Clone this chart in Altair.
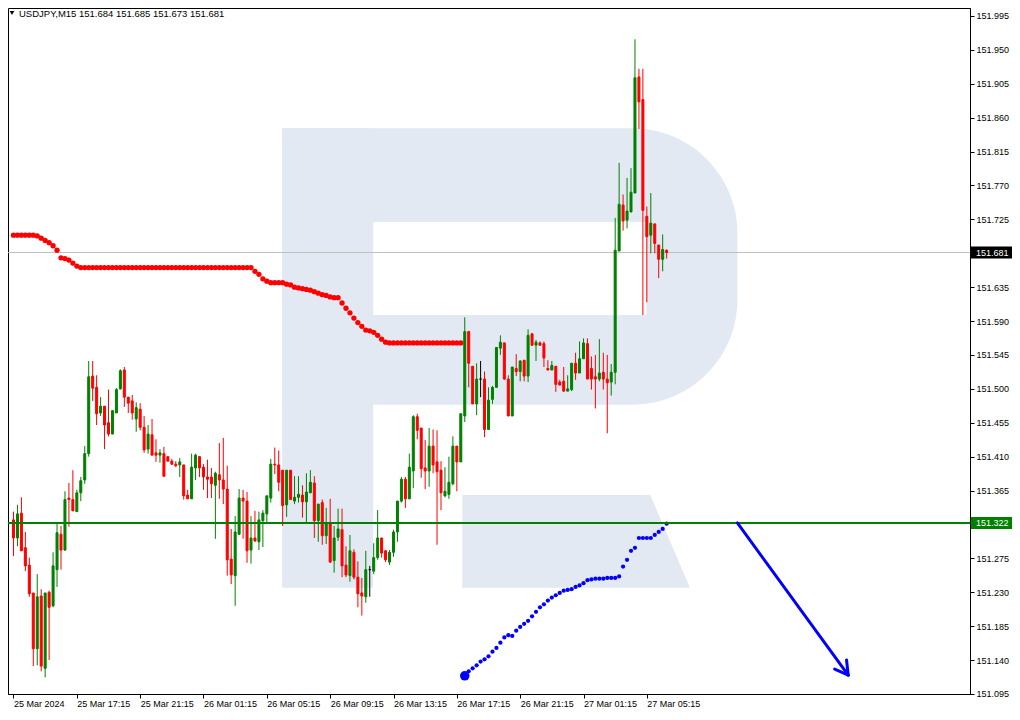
import altair as alt
import pandas as pd

# ---------------- data ----------------
header_text = "USDJPY,M15  151.684 151.685 151.673 151.681"

opens = [
    151.326, 151.302, 151.335, 151.289, 151.266, 151.229, 151.155, 151.225, 151.129, 151.230,
    151.212, 151.260, 151.307, 151.286, 151.355, 151.353, 151.337, 151.362, 151.379, 151.414,
    151.517, 151.502, 151.468, 151.477, 151.455, 151.440, 151.468, 151.500, 151.525, 151.489,
    151.484, 151.460, 151.473, 151.449, 151.420, 151.439, 151.415, 151.412, 151.414, 151.410,
    151.404, 151.400, 151.399, 151.399, 151.359, 151.354, 151.395, 151.410, 151.396, 151.383,
    151.383, 151.372, 151.386, 151.379, 151.367, 151.274, 151.252, 151.307, 151.355, 151.351,
    151.286, 151.302, 151.297, 151.325, 151.334, 151.355, 151.400, 151.399, 151.392, 151.346,
    151.392, 151.351, 151.356, 151.359, 151.350, 151.362, 151.375, 151.325, 151.349, 151.305,
    151.322, 151.272, 151.303, 151.313, 151.266, 151.252, 151.283, 151.250, 151.229, 151.224,
    151.260, 151.258, 151.276, 151.302, 151.285, 151.270, 151.283, 151.310, 151.351, 151.380,
    151.354, 151.391, 151.463, 151.448, 151.395, 151.391, 151.424, 151.403, 151.392, 151.358,
    151.360, 151.374, 151.424, 151.403, 151.464, 151.576, 151.530, 151.480, 151.513, 151.513,
    151.446, 151.486, 151.502, 151.554, 151.561, 151.513, 151.464, 151.527, 151.523, 151.538,
    151.517, 151.573, 151.558, 151.561, 151.560, 151.527, 151.525, 151.530, 151.509, 151.510,
    151.497, 151.499, 151.534, 151.521, 151.540, 151.560, 151.527, 151.516, 151.513, 151.522,
    151.513, 151.509, 151.522, 151.683, 151.744, 151.724, 151.735, 151.760, 151.914, 151.884,
    151.729, 151.704, 151.719, 151.691, 151.672, 151.684,
]
highs = [
    151.337, 151.346, 151.356, 151.310, 151.276, 151.229, 151.254, 151.234, 151.229, 151.232,
    151.283, 151.322, 151.318, 151.364, 151.375, 151.392, 151.366, 151.383, 151.424, 151.537,
    151.537, 151.518, 151.489, 151.477, 151.499, 151.472, 151.501, 151.526, 151.529, 151.489,
    151.492, 151.482, 151.481, 151.464, 151.452, 151.460, 151.433, 151.420, 151.423, 151.410,
    151.407, 151.404, 151.408, 151.399, 151.366, 151.414, 151.414, 151.411, 151.400, 151.406,
    151.395, 151.390, 151.428, 151.435, 151.398, 151.314, 151.331, 151.367, 151.366, 151.363,
    151.331, 151.338, 151.337, 151.339, 151.358, 151.407, 151.422, 151.418, 151.392, 151.392,
    151.392, 151.384, 151.384, 151.372, 151.388, 151.392, 151.384, 151.347, 151.353, 151.342,
    151.354, 151.318, 151.341, 151.341, 151.291, 151.306, 151.287, 151.271, 151.249, 151.285,
    151.265, 151.295, 151.339, 151.302, 151.286, 151.286, 151.313, 151.351, 151.383, 151.383,
    151.414, 151.465, 151.467, 151.448, 151.432, 151.448, 151.446, 151.445, 151.404, 151.396,
    151.410, 151.437, 151.424, 151.467, 151.595, 151.577, 151.530, 151.534, 151.537, 151.523,
    151.502, 151.504, 151.555, 151.571, 151.561, 151.518, 151.529, 151.546, 151.538, 151.538,
    151.579, 151.574, 151.565, 151.563, 151.563, 151.538, 151.537, 151.530, 151.512, 151.529,
    151.518, 151.534, 151.548, 151.563, 151.567, 151.567, 151.543, 151.545, 151.566, 151.548,
    151.545, 151.533, 151.727, 151.800, 151.758, 151.780, 151.793, 151.964, 151.925, 151.925,
    151.742, 151.760, 151.719, 151.691, 151.705, 151.685,
]
lows = [
    151.278, 151.291, 151.285, 151.258, 151.224, 151.132, 151.133, 151.125, 151.117, 151.140,
    151.210, 151.237, 151.260, 151.285, 151.317, 151.338, 151.337, 151.351, 151.374, 151.410,
    151.484, 151.452, 151.464, 151.420, 151.437, 151.440, 151.468, 151.499, 151.476, 151.468,
    151.459, 151.443, 151.445, 151.415, 151.414, 151.412, 151.403, 151.402, 151.384, 151.404,
    151.399, 151.396, 151.383, 151.353, 151.354, 151.354, 151.379, 151.383, 151.366, 151.355,
    151.355, 151.301, 151.354, 151.347, 151.252, 151.241, 151.212, 151.306, 151.301, 151.269,
    151.268, 151.297, 151.286, 151.290, 151.323, 151.349, 151.387, 151.364, 151.318, 151.330,
    151.353, 151.347, 151.349, 151.329, 151.323, 151.362, 151.302, 151.297, 151.293, 151.294,
    151.269, 151.256, 151.298, 151.250, 151.250, 151.244, 151.247, 151.210, 151.199, 151.216,
    151.224, 151.254, 151.273, 151.276, 151.270, 151.266, 151.277, 151.297, 151.349, 151.342,
    151.354, 151.368, 151.433, 151.382, 151.367, 151.370, 151.388, 151.293, 151.339, 151.356,
    151.354, 151.372, 151.364, 151.403, 151.456, 151.502, 151.480, 151.465, 151.489, 151.436,
    151.446, 151.480, 151.502, 151.545, 151.512, 151.464, 151.464, 151.517, 151.510, 151.510,
    151.509, 151.557, 151.537, 151.557, 151.529, 151.525, 151.525, 151.496, 151.505, 151.496,
    151.497, 151.497, 151.512, 151.521, 151.540, 151.513, 151.499, 151.474, 151.510, 151.499,
    151.441, 151.491, 151.506, 151.683, 151.710, 151.713, 151.734, 151.760, 151.845, 151.598,
    151.615, 151.680, 151.680, 151.647, 151.656, 151.673,
]
closes = [
    151.302, 151.334, 151.285, 151.265, 151.228, 151.155, 151.224, 151.132, 151.229, 151.210,
    151.265, 151.309, 151.286, 151.353, 151.353, 151.338, 151.362, 151.378, 151.414, 151.516,
    151.501, 151.467, 151.477, 151.452, 151.440, 151.471, 151.499, 151.524, 151.489, 151.481,
    151.468, 151.475, 151.449, 151.419, 151.440, 151.412, 151.412, 151.415, 151.384, 151.404,
    151.400, 151.398, 151.403, 151.358, 151.354, 151.396, 151.412, 151.395, 151.383, 151.380,
    151.374, 151.388, 151.379, 151.367, 151.273, 151.253, 151.310, 151.355, 151.351, 151.285,
    151.302, 151.298, 151.326, 151.335, 151.358, 151.400, 151.399, 151.376, 151.345, 151.392,
    151.353, 151.356, 151.360, 151.350, 151.363, 151.376, 151.325, 151.347, 151.305, 151.321,
    151.270, 151.302, 151.314, 151.265, 151.253, 151.285, 151.250, 151.228, 151.225, 151.260,
    151.260, 151.276, 151.302, 151.282, 151.273, 151.283, 151.310, 151.351, 151.380, 151.354,
    151.396, 151.463, 151.445, 151.394, 151.391, 151.424, 151.399, 151.390, 151.362, 151.364,
    151.376, 151.424, 151.403, 151.467, 151.576, 151.534, 151.480, 151.513, 151.513, 151.446,
    151.485, 151.502, 151.555, 151.562, 151.513, 151.464, 151.529, 151.523, 151.537, 151.517,
    151.571, 151.558, 151.562, 151.558, 151.541, 151.525, 151.531, 151.506, 151.505, 151.497,
    151.500, 151.534, 151.521, 151.540, 151.561, 151.513, 151.513, 151.513, 151.521, 151.513,
    151.508, 151.522, 151.684, 151.745, 151.723, 151.736, 151.761, 151.913, 151.881, 151.737,
    151.702, 151.720, 151.693, 151.672, 151.685, 151.681,
]

# red dotted indicator (bars 0..113)
red_line = [
    151.704, 151.704, 151.704, 151.704, 151.704, 151.704, 151.703, 151.700, 151.697, 151.694,
    151.690, 151.684, 151.674, 151.673, 151.671, 151.667, 151.663, 151.661, 151.661, 151.661,
    151.661, 151.661, 151.661, 151.661, 151.661, 151.661, 151.661, 151.661, 151.661, 151.661,
    151.661, 151.661, 151.661, 151.661, 151.661, 151.661, 151.661, 151.661, 151.661, 151.661,
    151.661, 151.661, 151.661, 151.661, 151.661, 151.661, 151.661, 151.661, 151.661, 151.661,
    151.661, 151.661, 151.661, 151.661, 151.661, 151.661, 151.661, 151.661, 151.661, 151.661,
    151.661, 151.656, 151.652, 151.646, 151.643, 151.641, 151.641, 151.641, 151.641, 151.639,
    151.638, 151.635, 151.634, 151.633, 151.632, 151.631, 151.629, 151.627, 151.625, 151.624,
    151.622, 151.621, 151.621, 151.614, 151.607, 151.601, 151.594, 151.588, 151.583, 151.578,
    151.577, 151.575, 151.571, 151.566, 151.562, 151.561, 151.561, 151.561, 151.561, 151.561,
    151.561, 151.561, 151.561, 151.561, 151.561, 151.561, 151.561, 151.561, 151.561, 151.561,
    151.561, 151.561, 151.561, 151.561,
]
# blue dotted indicator (bars 114..165)
blue_start = 114
blue_line = [
    151.119, 151.125, 151.129, 151.133, 151.138, 151.141, 151.145, 151.151, 151.156, 151.163,
    151.170, 151.173, 151.172, 151.179, 151.184, 151.188, 151.192, 151.198, 151.204, 151.210,
    151.214, 151.219, 151.223, 151.226, 151.229, 151.232, 151.233, 151.234, 151.237, 151.239,
    151.242, 151.246, 151.247, 151.248, 151.248, 151.248, 151.249, 151.249, 151.249, 151.251,
    151.264, 151.273, 151.285, 151.289, 151.302, 151.302, 151.302, 151.302, 151.306, 151.310,
    151.314, 151.321,
]

time_labels = ["25 Mar 2024", "25 Mar 17:15", "25 Mar 21:15", "26 Mar 01:15", "26 Mar 05:15",
               "26 Mar 09:15", "26 Mar 13:15", "26 Mar 17:15", "26 Mar 21:15", "27 Mar 01:15",
               "27 Mar 05:15"]
time_tick_bars = [0, 16, 32, 48, 64, 80, 96, 112, 128, 144, 160]

price_ticks = [151.095, 151.140, 151.185, 151.230, 151.275, 151.365, 151.410, 151.455,
               151.500, 151.545, 151.590, 151.635, 151.725, 151.770, 151.815, 151.860,
               151.905, 151.950, 151.995]

level_green = 151.322
level_last = 151.681

# projected arrow (bar, price)
arrow_start = (182.875, 151.322)
arrow_tip = (210.875, 151.120)
arrow_wing_ends = [(210.45, 151.140), (207.45, 151.128)]

# background logo geometry (bar, price)
logo_bowl = dict(x=67.875, x2=182.875, y=151.846, y2=151.479)
logo_stem = dict(x=67.875, x2=90.875, y=151.846, y2=151.236)
logo_hole = dict(x=90.875, x2=159.875, y=151.7215, y2=151.598)
logo_leg_x = [113.375, 160.875, 170.875]
logo_leg_top = [151.359, 151.359, 151.236]
logo_leg_bottom = [151.236, 151.236, 151.236]

# ---------------- chart ----------------
n = len(opens)
assert len(highs) == n and len(lows) == n and len(closes) == n
assert len(red_line) == 114 and len(blue_line) == 52

W, H = 962, 686
RIGHT, BOTTOM = 42, 14
FONT = "Liberation Sans"
LOGO = "#E3E9F2"

xs = alt.Scale(domain=[-0.125, (W - 0.5) / 4.0], nice=False, zero=False)
ys = alt.Scale(domain=[151.0949, 152.0056], nice=False, zero=False)

label_arr = "[" + ",".join("'" + t + "'" for t in time_labels) + "]"
x_axis = alt.Axis(values=time_tick_bars, labelExpr=label_arr + "[round(datum.value/16)]",
                  labelAlign="left", labelPadding=1, tickSize=4, labelFontSize=9, labelFont=FONT,
                  labelColor="black", domainColor="black", tickColor="black", grid=False,
                  title=None, labelOverlap=False, labelFlush=False, labelBound=False)
y_axis = alt.Axis(orient="right", values=price_ticks, format=".3f", tickSize=4, labelPadding=2,
                  labelFontSize=9, labelFont=FONT, labelColor="black", domainColor="black",
                  tickColor="black", grid=False, title=None, labelOverlap=False)


def X(f):
    return alt.X(f, type="quantitative", scale=xs, axis=x_axis)


def Y(f):
    return alt.Y(f, type="quantitative", scale=ys, axis=y_axis)


def direction(o, c):
    if c > o:
        return "up"
    if c < o:
        return "down"
    return "flat"


candles = pd.DataFrame({"bar": list(range(n)), "open": opens, "high": highs,
                        "low": lows, "close": closes})
candles["dir"] = [direction(o, c) for o, c in zip(opens, closes)]
cscale = alt.Scale(domain=["up", "down", "flat"], range=["#008000", "#FF0000", "#000000"])


def rect_df(d):
    return pd.DataFrame([d])


bowl = alt.Chart(rect_df(logo_bowl)).mark_rect(
    color=LOGO, cornerRadiusTopRight=105, cornerRadiusBottomRight=105).encode(
    x=X("x"), x2="x2", y=Y("y"), y2="y2")
stem = alt.Chart(rect_df(logo_stem)).mark_rect(color=LOGO).encode(
    x=X("x"), x2="x2", y=Y("y"), y2="y2")
hole = alt.Chart(rect_df(logo_hole)).mark_rect(color="white").encode(
    x=X("x"), x2="x2", y=Y("y"), y2="y2")
leg = alt.Chart(pd.DataFrame({"x": logo_leg_x, "top": logo_leg_top, "bot": logo_leg_bottom})).mark_area(
    color=LOGO, opacity=1).encode(x=X("x"), y=Y("top"), y2="bot")

grey_rule = alt.Chart(pd.DataFrame({"p": [level_last]})).mark_rule(
    color="#C0C0C0", strokeWidth=1).encode(y=Y("p"))

red_df = pd.DataFrame({"bar": list(range(len(red_line))), "v": red_line})
red_dots = alt.Chart(red_df).mark_circle(color="#FF0000", size=28, opacity=1, clip=True).encode(
    x=X("bar"), y=Y("v"))

blue_df = pd.DataFrame({"bar": list(range(blue_start, blue_start + len(blue_line))), "v": blue_line})
blue_dots = alt.Chart(blue_df).mark_circle(color="#0000FF", size=18, opacity=1).encode(
    x=X("bar"), y=Y("v"))
blue_big = alt.Chart(blue_df.iloc[[0]]).mark_circle(color="#0000FF", size=90, opacity=1).encode(
    x=X("bar"), y=Y("v"))

wicks = alt.Chart(candles).mark_rule(strokeWidth=1, clip=True).encode(
    x=X("bar"), y=Y("low"), y2="high",
    color=alt.Color("dir:N", scale=cscale, legend=None))
bodies = alt.Chart(candles).mark_bar(width=2, strokeWidth=1, clip=True).encode(
    x=X("bar"), y=Y("open"), y2="close",
    color=alt.Color("dir:N", scale=cscale, legend=None),
    stroke=alt.Stroke("dir:N", scale=cscale, legend=None))

green_rule = alt.Chart(pd.DataFrame({"p": [level_green]})).mark_rule(
    color="#008000", strokeWidth=2).encode(y=Y("p"))

arrow_rows = [dict(x1=arrow_start[0], y1=arrow_start[1], x2=arrow_tip[0], y2=arrow_tip[1])]
for wx, wy in arrow_wing_ends:
    arrow_rows.append(dict(x1=arrow_tip[0], y1=arrow_tip[1], x2=wx, y2=wy))
arrow = alt.Chart(pd.DataFrame(arrow_rows)).mark_rule(
    color="#0000FF", strokeWidth=3, strokeCap="round").encode(
    x=X("x1"), y=Y("y1"), x2="x2", y2="y2")

box_df = pd.DataFrame({"p": [level_last, level_green],
                       "label": [f"{level_last:.3f}", f"{level_green:.3f}"],
                       "fill": ["#000000", "#008000"]})
boxes = alt.Chart(box_df).transform_calculate(
    top="datum.p + 0.008", bot="datum.p - 0.008").mark_rect().encode(
    x=alt.value(W + 1), x2=alt.value(W + RIGHT), y=Y("top"), y2="bot:Q",
    color=alt.Color("fill:N", scale=None))
box_text = alt.Chart(box_df).mark_text(
    align="left", baseline="middle", fontSize=9, font=FONT, color="white", dy=0.5).encode(
    x=alt.value(W + 6), y=Y("p"), text="label:N")

head_df = pd.DataFrame({"t": [header_text]})
head_tri = alt.Chart(head_df).mark_point(
    shape="triangle-down", filled=True, color="black", size=22, opacity=1).encode(
    x=alt.value(4), y=alt.value(5))
head_txt = alt.Chart(head_df).mark_text(
    align="left", baseline="top", fontSize=9.5, font=FONT, color="black").encode(
    x=alt.value(11), y=alt.value(0.5), text="t:N")

chart = alt.layer(
    bowl, stem, hole, leg, grey_rule, red_dots, blue_dots, blue_big,
    wicks, bodies, green_rule, arrow, boxes, box_text, head_tri, head_txt
).properties(
    width=W, height=H, background="white",
    autosize=alt.AutoSizeParams(type="none"),
    padding={"left": 0, "top": 0, "right": RIGHT, "bottom": BOTTOM},
).configure_view(stroke="black", strokeWidth=1)

chart.save("out.html", embed_options={"renderer": "svg", "actions": False})
